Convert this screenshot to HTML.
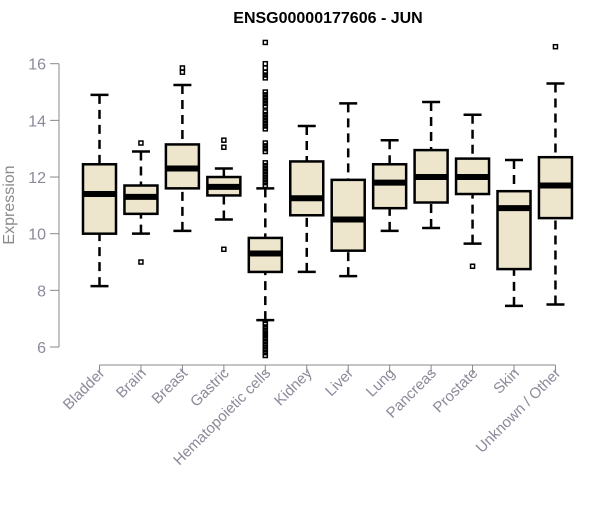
<!DOCTYPE html>
<html><head><meta charset="utf-8"><style>
body{margin:0;background:#fff}
svg text{font-family:"Liberation Sans",Arial,sans-serif}
</style></head><body>
<svg id="c" width="600" height="500" xmlns="http://www.w3.org/2000/svg">
<text x="328" y="23" text-anchor="middle" font-size="16" font-weight="bold">ENSG00000177606 - JUN</text>
<text transform="translate(14,205) rotate(-90)" text-anchor="middle" font-size="16" fill="#8a8a8a">Expression</text>
<g id="plot"></g>
</svg>
<script>
const categories=["Bladder","Brain","Breast","Gastric","Hematopoietic cells","Kidney","Liver","Lung","Pancreas","Prostate","Skin","Unknown / Other"];
const whiskerLow=[8.15,10.0,10.1,10.5,6.95,8.65,8.5,10.1,10.2,9.65,7.45,7.5];
const q1=[10.0,10.7,11.6,11.35,8.65,10.65,9.4,10.9,11.1,11.4,8.75,10.55];
const medians=[11.4,11.3,12.3,11.65,9.3,11.25,10.5,11.8,12.0,12.0,10.9,11.7];
const q3=[12.45,11.7,13.15,12.0,9.85,12.55,11.9,12.45,12.95,12.65,11.5,12.7];
const whiskerHigh=[14.9,12.9,15.25,12.3,11.6,13.8,14.6,13.3,14.65,14.2,12.6,15.3];
const outliers=[[],[13.2,9.0],[15.7,15.85],[13.3,13.05,9.45],
[16.75,16.0,15.85,15.7,15.6,15.5,15.0,14.9,14.8,14.7,14.6,14.5,14.3,14.2,14.1,14.0,13.9,13.8,13.7,13.2,13.1,13.0,12.9,12.5,12.4,12.3,12.2,12.1,12.0,11.9,11.8,11.7,6.85,6.8,6.7,6.6,6.5,6.45,6.4,6.3,6.2,6.1,6.0,5.9,5.8,5.7],
[],[],[],[],[8.85],[],[16.6]];
const yTicks=[6,8,10,12,14,16];
const NS="http://www.w3.org/2000/svg";
const g=document.getElementById('plot');
function y(v){return 347-(v-6)*28.33;}
function x(i){return 99.5+i*41.45;}
function mk(t,a){const e=document.createElementNS(NS,t);for(const k in a)e.setAttribute(k,a[k]);g.appendChild(e);return e;}
let ax=mk('line',{x1:59,x2:59,y1:y(6),y2:y(16),stroke:'#888','stroke-width':1});


yTicks.forEach(v=>{
 let t=mk('line',{x1:50,x2:59,y1:y(v),y2:y(v),stroke:'#888'});
 
 
 let l=mk('text',{x:46,y:y(v)+6,'text-anchor':'end','font-size':16,fill:'#8a8a9a'});
 l.textContent=v;
 
 
});
let xa=mk('line',{x1:x(0),x2:x(categories.length-1),y1:365,y2:365,stroke:'#888'});


categories.forEach((c,i)=>{
 const cx=x(i),hw=16.5;
 let t=mk('line',{x1:cx,x2:cx,y1:365,y2:373,stroke:'#888'});
 
 
 let l=mk('text',{x:cx+6,y:374,'text-anchor':'end','font-size':15,fill:'#8a8a9a',transform:`rotate(-45 ${cx+6} 374)`});
 l.textContent=c;
 
 
 const grp=document.createElementNS(NS,'g');g.appendChild(grp);
 
 
 const add=(tn,a)=>{const e=document.createElementNS(NS,tn);for(const k in a)e.setAttribute(k,a[k]);grp.appendChild(e);return e;};
 add('line',{x1:cx,x2:cx,y1:y(whiskerLow[i]),y2:y(q1[i]),stroke:'#000','stroke-width':2.5,'stroke-dasharray':'9,6'});
 add('line',{x1:cx,x2:cx,y1:y(whiskerHigh[i]),y2:y(q3[i]),stroke:'#000','stroke-width':2.5,'stroke-dasharray':'9,6'});
 add('line',{x1:cx-9,x2:cx+9,y1:y(whiskerLow[i]),y2:y(whiskerLow[i]),stroke:'#000','stroke-width':2.5});
 add('line',{x1:cx-9,x2:cx+9,y1:y(whiskerHigh[i]),y2:y(whiskerHigh[i]),stroke:'#000','stroke-width':2.5});
 add('rect',{x:cx-hw,y:y(q3[i]),width:2*hw,height:y(q1[i])-y(q3[i]),fill:'#ede6cd',stroke:'#000','stroke-width':2.5});
 add('line',{x1:cx-hw,x2:cx+hw,y1:y(medians[i]),y2:y(medians[i]),stroke:'#000','stroke-width':6});
 outliers[i].forEach(o=>{
  add('rect',{x:cx-2,y:y(o)-2,width:4,height:4,fill:'none',stroke:'#000','stroke-width':1.5});
 });
});
</script>
</body></html>
